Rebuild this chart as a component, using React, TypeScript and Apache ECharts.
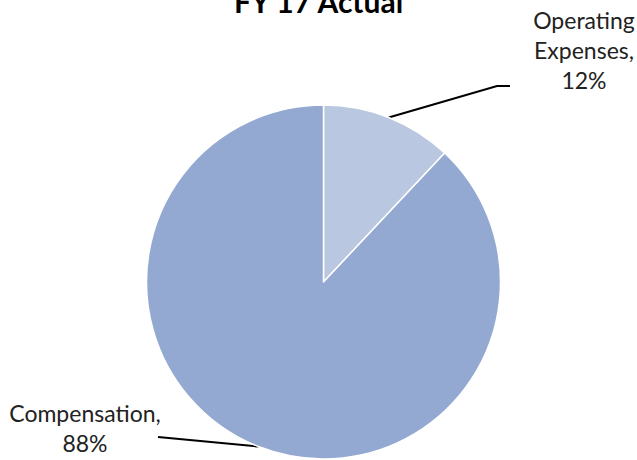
import React, { useEffect, useRef } from "react";
import * as echarts from "echarts";

const categories = ["Operating\nExpenses", "Compensation"];
const values = [12, 88];
const colors = ["#b9c7e1", "#94a9d1"];
const titleText = "FY 17 Actual";

export default function App() {
  const ref = useRef<HTMLDivElement>(null);
  useEffect(() => {
    const chart = echarts.init(ref.current!, null, { renderer: "svg" });
    const labelPos: Record<string, any> = {
      "Operating\nExpenses": { x: 584, y: 50, line: [[497, 86], [510, 86]] },
      Compensation: { x: 85, y: 428, line: [[158, 437], [158, 437]] },
    };
    chart.setOption({
      animation: false,
      title: {
        text: titleText,
        left: "center",
        top: -19,
        textStyle: { fontFamily: "Lato", fontWeight: "bold", fontSize: 30, color: "#000" },
      },
      series: [
        {
          type: "pie",
          center: [323.5, 282],
          radius: 177,
          startAngle: 90,
          clockwise: true,
          data: categories.map((c, i) => ({ name: c, value: values[i], itemStyle: { color: colors[i] } })),
          itemStyle: { borderColor: "#fff", borderWidth: 1.5 },
          label: {
            show: true,
            position: "outside",
            formatter: (p: any) => `${p.name},\n${Math.round(p.percent)}%`,
            fontFamily: "Lato",
            fontSize: 23,
            lineHeight: 30,
            color: "#222",
            align: "center",
          },
          labelLine: { show: true, lineStyle: { color: "#000", width: 2 } },
          labelLayout: (params: any) => {
            const name = categories[params.dataIndex];
            const cfg = labelPos[name];
            const pts = params.labelLinePoints;
            const start = pts ? pts[0] : cfg.line[0];
            return {
              x: cfg.x,
              y: cfg.y,
              align: "center",
              verticalAlign: "middle",
              labelLinePoints: [start, cfg.line[0], cfg.line[1]],
            };
          },
        },
      ],
    });
    return () => chart.dispose();
  }, []);
  return (
    <div
      ref={ref}
      style={{ position: "fixed", left: 0, top: 0, width: 637, height: 460, background: "#fff" }}
    />
  );
}
